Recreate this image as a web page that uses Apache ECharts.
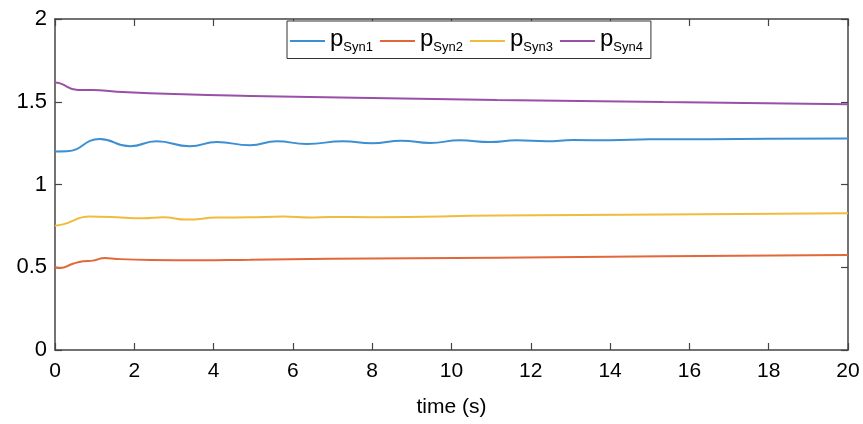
<!DOCTYPE html>
<html>
<head>
<meta charset="utf-8">
<script src="https://cdn.jsdelivr.net/npm/echarts@6/dist/echarts.min.js"></script>
<style>
  html, body { margin: 0; padding: 0; background: #fff; }
  #chart { width: 863px; height: 424px; }
</style>
</head>
<body>
<div id="chart"></div>
<script>
// Generator active power outputs over time
const seriesNames = ['Syn1', 'Syn2', 'Syn3', 'Syn4'];
const seriesColors = ['#3c8fd2', '#e2683a', '#f1bb3e', '#9a4fa8'];

const tSyn1 = [0, 0.3, 1.13, 1.89, 2.56, 3.4, 4.08, 4.92, 5.59, 6.35, 7.27, 7.99, 8.74, 9.46, 10.21, 10.97, 11.64, 12.4, 13.07, 14.0, 15.0, 16.5, 18.0, 20.0];
const pSyn1 = [1.2, 1.201, 1.275, 1.231, 1.261, 1.231, 1.257, 1.237, 1.261, 1.245, 1.261, 1.249, 1.265, 1.251, 1.267, 1.257, 1.267, 1.261, 1.269, 1.267, 1.273, 1.274, 1.276, 1.278];

const tSyn2 = [0, 0.13, 0.45, 0.71, 0.96, 1.26, 1.56, 2.4, 3.66, 4.92, 6.94, 11.14, 15.34, 20.0];
const pSyn2 = [0.5, 0.495, 0.521, 0.536, 0.54, 0.556, 0.55, 0.544, 0.542, 0.546, 0.551, 0.558, 0.566, 0.574];

const tSyn3 = [0, 0.2, 0.88, 1.39, 2.22, 2.73, 3.32, 4.08, 4.92, 5.76, 6.43, 6.94, 8.03, 11.14, 15.34, 20.0];
const pSyn3 = [0.751, 0.759, 0.806, 0.804, 0.796, 0.802, 0.788, 0.8, 0.802, 0.806, 0.8, 0.804, 0.802, 0.812, 0.818, 0.826];

const tSyn4 = [0, 0.13, 0.58, 0.96, 1.56, 3.23, 4.92, 7.19, 11.14, 15.34, 20.0];
const pSyn4 = [1.617, 1.611, 1.571, 1.571, 1.561, 1.545, 1.535, 1.525, 1.511, 1.498, 1.485];

const xTicks = [0, 2, 4, 6, 8, 10, 12, 14, 16, 18, 20];
const yTicks = [0, 0.5, 1, 1.5, 2];

const times = [tSyn1, tSyn2, tSyn3, tSyn4];
const values = [pSyn1, pSyn2, pSyn3, pSyn4];

const axisColor = '#444';
const labelFont = 'Liberation Sans, Arial, sans-serif';

const chart = echarts.init(document.getElementById('chart'), null, { renderer: 'canvas' });

const series = seriesNames.map((name, i) => ({
  name: name,
  type: 'line',
  data: times[i].map((t, k) => [t, values[i][k]]),
  smooth: 0.5,
  showSymbol: false,
  symbol: 'none',
  lineStyle: { color: seriesColors[i], width: 2 },
  itemStyle: { color: seriesColors[i] },
  z: 3
}));

chart.setOption({
  animation: false,
  backgroundColor: '#fff',
  grid: { left: 55, right: 15, top: 19, bottom: 74 },
  legend: {
    data: seriesNames,
    left: 287,
    top: 21,
    padding: [6, 8, 5, 3],
    itemGap: 7,
    itemWidth: 35,
    itemHeight: 2,
    icon: 'rect',
    backgroundColor: '#fff',
    borderColor: '#333',
    borderWidth: 1,
    formatter: name => '{p|p}{s|' + name + '}',
    textStyle: {
      color: '#000',
      rich: {
        p: { fontSize: 24, fontFamily: labelFont, color: '#000', padding: [0, 0, 4, 0] },
        s: { fontSize: 13, fontFamily: labelFont, color: '#000', padding: [12, 0, 0, 0] }
      }
    }
  },
  xAxis: [{
    type: 'value',
    min: xTicks[0],
    max: xTicks[xTicks.length - 1],
    interval: 2,
    name: 'time (s)',
    nameLocation: 'middle',
    nameGap: 47,
    nameTextStyle: { fontSize: 21, color: '#000', fontFamily: labelFont },
    axisLine: { show: true, onZero: false, lineStyle: { color: axisColor, width: 1.5 } },
    axisTick: { show: true, inside: true, length: 7, lineStyle: { color: axisColor, width: 1.2 } },
    axisLabel: { fontSize: 21, color: '#000', margin: 11, fontFamily: labelFont },
    splitLine: { show: false }
  }, {
    type: 'value',
    position: 'top',
    min: xTicks[0],
    max: xTicks[xTicks.length - 1],
    interval: 2,
    axisLine: { show: true, onZero: false, lineStyle: { color: axisColor, width: 1.5 } },
    axisTick: { show: true, inside: true, length: 7, lineStyle: { color: axisColor, width: 1.2 } },
    axisLabel: { show: false },
    splitLine: { show: false }
  }],
  yAxis: [{
    type: 'value',
    min: yTicks[0],
    max: yTicks[yTicks.length - 1],
    interval: 0.5,
    axisLine: { show: true, onZero: false, lineStyle: { color: axisColor, width: 1.5 } },
    axisTick: { show: true, inside: true, length: 7, lineStyle: { color: axisColor, width: 1.2 } },
    axisLabel: { fontSize: 22, color: '#000', margin: 8, fontFamily: labelFont },
    splitLine: { show: false }
  }, {
    type: 'value',
    position: 'right',
    min: yTicks[0],
    max: yTicks[yTicks.length - 1],
    interval: 0.5,
    axisLine: { show: true, onZero: false, lineStyle: { color: axisColor, width: 1.5 } },
    axisTick: { show: true, inside: true, length: 7, lineStyle: { color: axisColor, width: 1.2 } },
    axisLabel: { show: false },
    splitLine: { show: false }
  }],
  series: series
});
</script>
</body>
</html>
